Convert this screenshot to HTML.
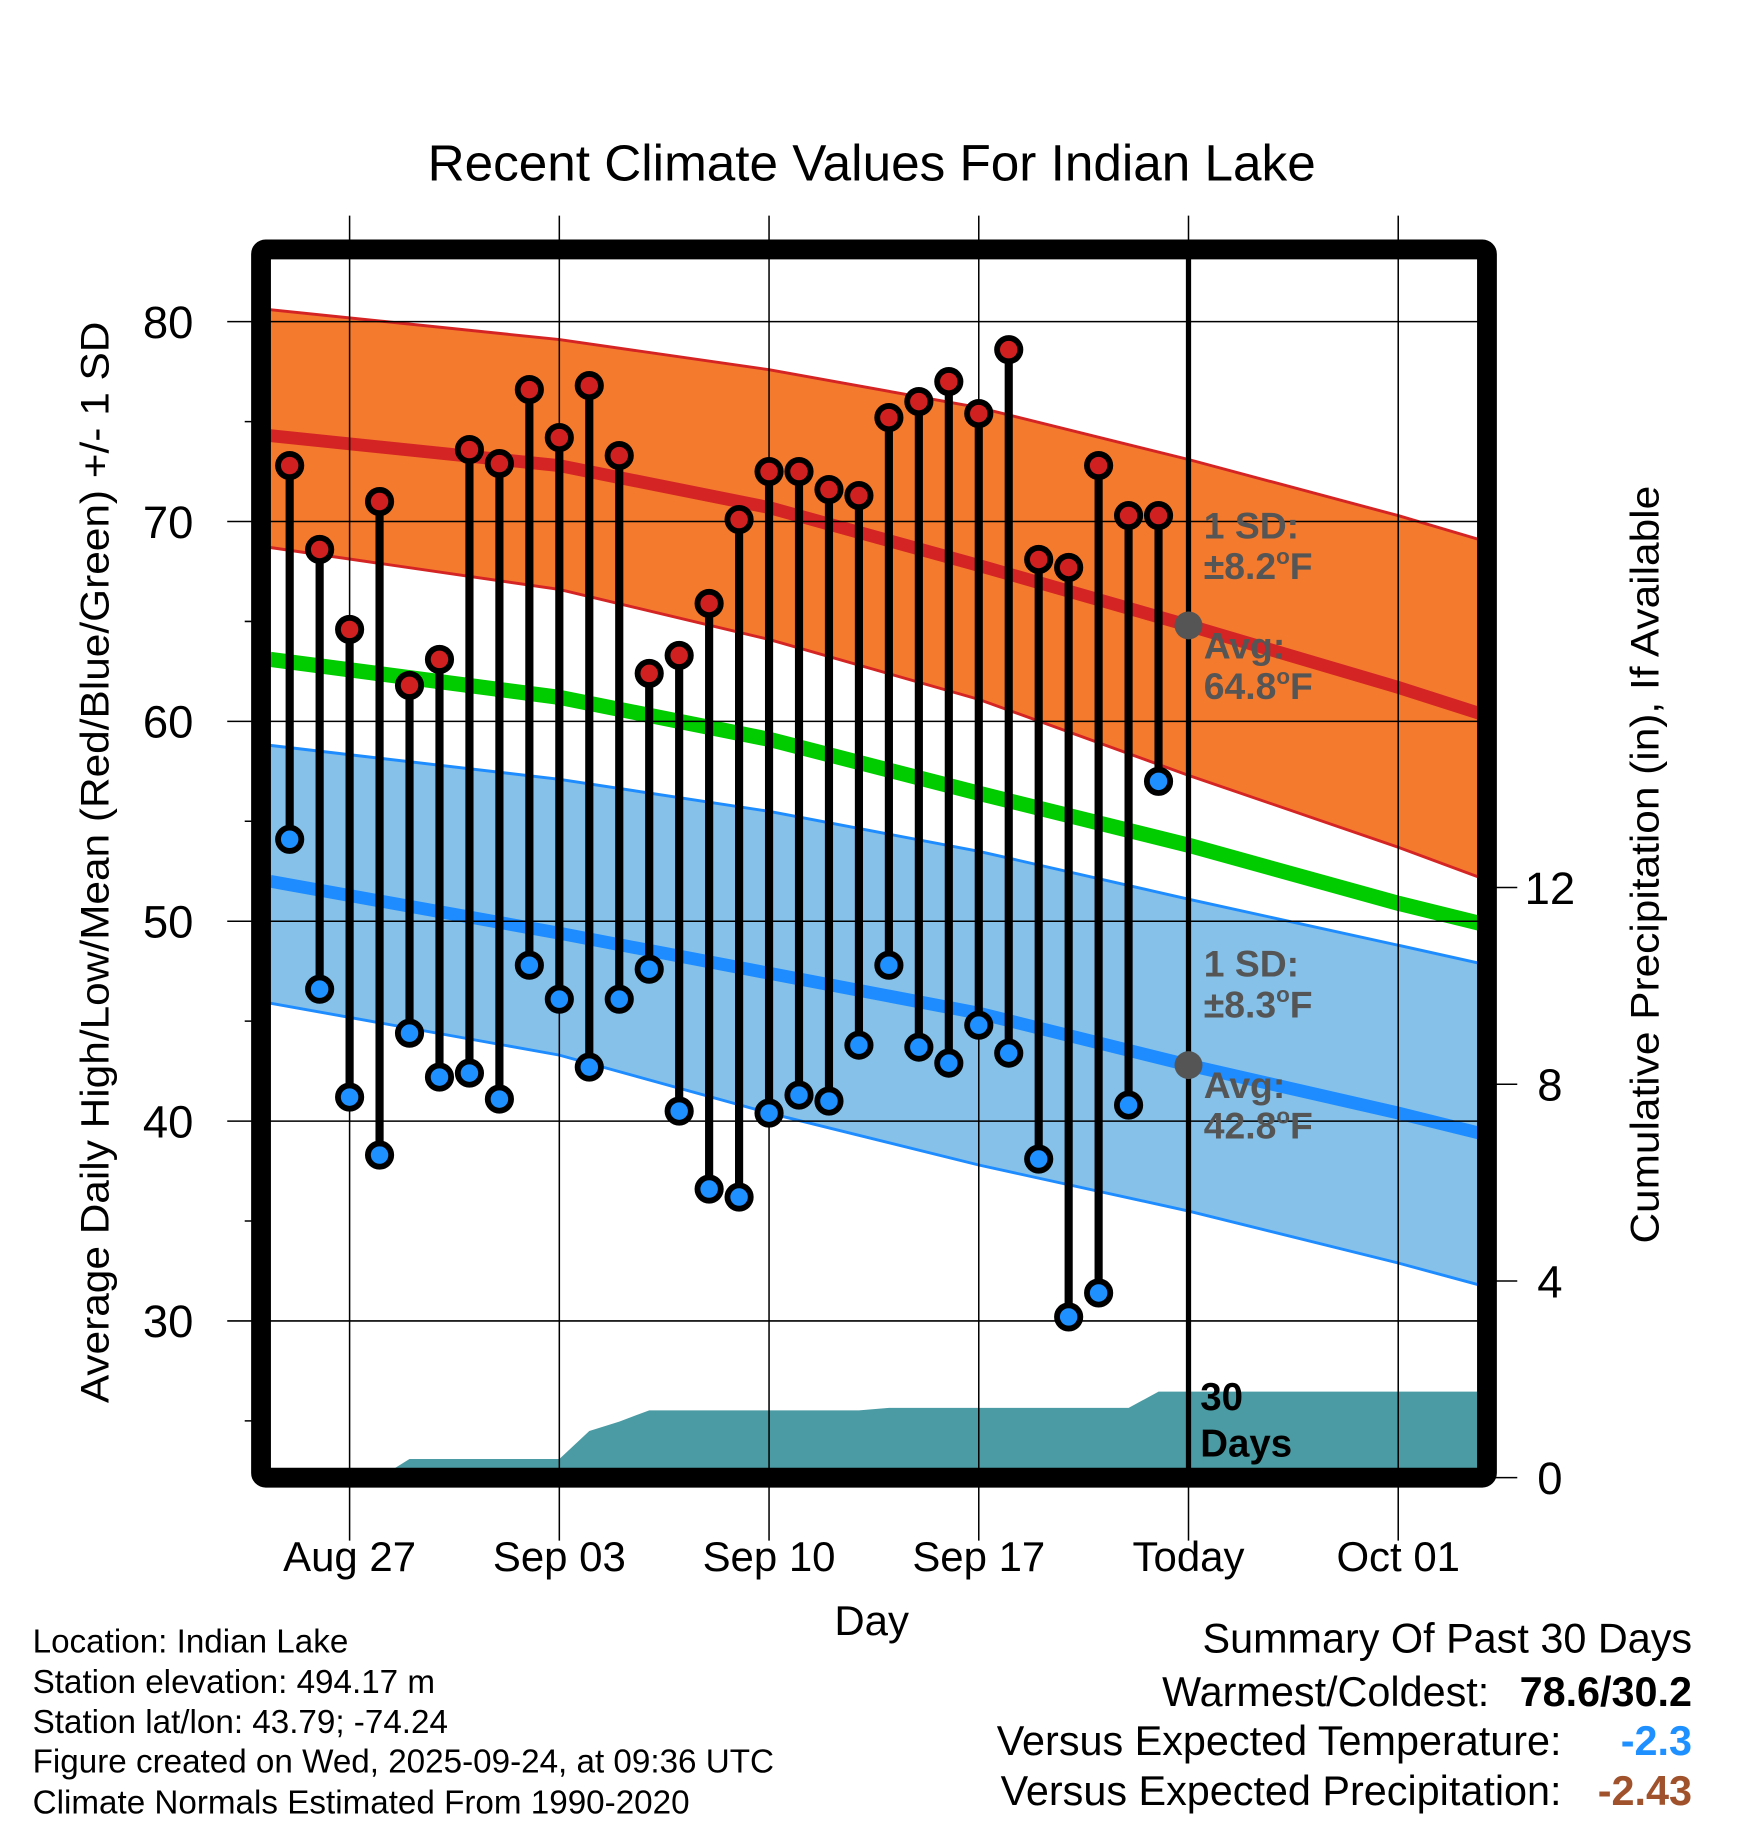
<!DOCTYPE html>
<html><head><meta charset="utf-8"><style>
html,body{margin:0;padding:0;background:#fff}
svg{display:block;font-family:"Liberation Sans",sans-serif}
</style></head><body>
<svg id="chart" width="1748" height="1828" viewBox="0 0 1500 1568.6" xmlns="http://www.w3.org/2000/svg">
<g id="bands"></g><g id="grid"></g><g id="marks"></g><g id="frame"></g><g id="labels"></g>
</svg>
<script>
// ---- data ----
const dayLabels = ["Aug 27","Sep 03","Sep 10","Sep 17","Today","Oct 01"];
const dayTicks = [0,7,14,21,28,35];
const obsDays = [-2,-1,0,1,2,3,4,5,6,7,8,9,10,11,12,13,14,15,16,17,18,19,20,21,22,23,24,25,26,27];
const highs = [72.8,68.6,64.6,71.0,61.8,63.1,73.6,72.9,76.6,74.2,76.8,73.3,62.4,63.3,65.9,70.1,72.5,72.5,71.6,71.3,75.2,76.0,77.0,75.4,78.6,68.1,67.7,72.8,70.3,70.3];
const lows = [54.1,46.6,41.2,38.3,44.4,42.2,42.4,41.1,47.8,46.1,42.7,46.1,47.6,40.5,36.6,36.2,40.4,41.3,41.0,43.8,47.8,43.7,42.9,44.8,43.4,38.1,30.2,31.4,40.8,57.0];
const precip = [0,0,0,0,0.38,0.38,0.38,0.38,0.38,0.38,0.95,1.14,1.37,1.37,1.37,1.37,1.37,1.37,1.37,1.37,1.42,1.42,1.42,1.42,1.42,1.42,1.42,1.42,1.42,1.75];
const normDays = [-2.65,7,14,21,28,35,37.7];
const hiUpper = [80.6,79.1,77.6,75.7,73.1,70.3,69.1];
const hiMean = [74.3,72.8,70.7,67.8,64.8,61.7,60.4];
const hiLower = [68.7,66.6,64.1,61.1,57.3,53.7,52.2];
const avgMean = [63.1,61.2,59.1,56.4,53.8,50.9,49.9];
const loUpper = [58.8,57.1,55.5,53.5,51.1,48.8,47.9];
const loMean = [52.0,49.4,47.4,45.4,42.8,40.4,39.4];
const loLower = [45.9,43.3,40.4,37.8,35.5,32.9,31.8];
const yTicks = [30,40,50,60,70,80];
const yMinor = [25,35,45,55,65,75];
const pTicks = [0,4,8,12];

// ---- axes ----
const X0=232,X1=1268,Y0=222,Y1=1260;
const x = d => 300 + d*25.71;
const y = v => 276 + (80-v)*17.15;
const yp = p => 1268 - p*42.2;
const NS="http://www.w3.org/2000/svg";
function mk(parent,tag,attrs){const e=document.createElementNS(NS,tag);for(const k in attrs)e.setAttribute(k,attrs[k]);document.getElementById(parent).appendChild(e);return e;}
const pts=(ds,vs)=>ds.map((d,i)=>x(d).toFixed(1)+","+y(vs[i]).toFixed(1));
function band(up,lo,fill,stroke,name){
  const p=pts(normDays,up).concat(pts(normDays,lo).reverse());
  const e=mk("bands","polygon",{points:p.join(" "),fill:fill});
  
  
  const a=mk("bands","polyline",{points:pts(normDays,up).join(" "),fill:"none",stroke:stroke,"stroke-width":2.5});
  
  
  const b=mk("bands","polyline",{points:pts(normDays,lo).join(" "),fill:"none",stroke:stroke,"stroke-width":2.5});
  
  
}
band(hiUpper,hiLower,"#f47a2e","#d42424","high-sd-band");
band(loUpper,loLower,"#85c1e9","#1e8cff","low-sd-band");
function line(vs,color,w,name){
  const e=mk("bands","polyline",{points:pts(normDays,vs).join(" "),fill:"none",stroke:color,"stroke-width":w});
  
  
}
line(hiMean,"#d42424",11,"normal-high-line");
line(avgMean,"#00cc00",13,"normal-mean-line");
line(loMean,"#1e8cff",11,"normal-low-line");

// precip area
{
  let p=[x(-2.65)+","+yp(0)];
  obsDays.forEach((d,i)=>p.push(x(d).toFixed(1)+","+yp(precip[i]).toFixed(1)));
  p.push(X1+","+yp(precip[precip.length-1]).toFixed(1));
  p.push(X1+","+Y1, X0+","+Y1);
  const e=mk("bands","polygon",{points:p.join(" "),fill:"#4a9ba3"});
  
  
}

// grid
dayTicks.forEach((d,i)=>{
  const e=mk("grid","line",{x1:x(d),x2:x(d),y1:185,y2:1322,stroke:"#000","stroke-width":1.3});
  
  
  const t=mk("labels","text",{x:x(d),y:1348,"font-size":36,"text-anchor":"middle"});
  t.textContent=dayLabels[i];
  
  
});
yTicks.forEach(v=>{
  const e=mk("grid","line",{x1:195,x2:X1,y1:y(v),y2:y(v),stroke:"#000","stroke-width":1.3});
  
  
  const t=mk("labels","text",{x:166,y:y(v)+14,"font-size":39,"text-anchor":"end"});
  t.textContent=v;
  
  
});
yMinor.forEach(v=>{
  const m=mk("grid","line",{x1:210,x2:225,y1:y(v),y2:y(v),stroke:"#000","stroke-width":1.3});
  
  
});
pTicks.forEach(p=>{
  const e=mk("grid","line",{x1:1280,x2:1302,y1:yp(p),y2:yp(p),stroke:"#000","stroke-width":1.3});
  
  
  const t=mk("labels","text",{x:1330,y:yp(p)+14,"font-size":39,"text-anchor":"middle"});
  t.textContent=p;
  
  
});

// today line
{const e=mk("marks","line",{x1:x(28),x2:x(28),y1:Y0,y2:Y1,stroke:"#000","stroke-width":4.5});

}

// stems & markers
obsDays.forEach((d,i)=>{
  const s=mk("marks","line",{x1:x(d),x2:x(d),y1:y(highs[i]),y2:y(lows[i]),stroke:"#000","stroke-width":7});
  
  
  const h=mk("marks","circle",{cx:x(d),cy:y(highs[i]),r:10,fill:"#d02020",stroke:"#000","stroke-width":5});
  
  
  const l=mk("marks","circle",{cx:x(d),cy:y(lows[i]),r:10,fill:"#1e90ff",stroke:"#000","stroke-width":5});
  
  
});
{const a=mk("marks","circle",{cx:x(28),cy:y(hiMean[4]),r:12,fill:"#555"});


const b=mk("marks","circle",{cx:x(28),cy:y(loMean[4]),r:12,fill:"#555"});

}

// frame
{const e=mk("frame","rect",{x:224,y:214,width:1052,height:1054,fill:"none",stroke:"#000","stroke-width":17,rx:4});

}
</script>
<script>
// static text
const T=[
 ["chart-title",748,155,44,"middle","normal","#000","Recent Climate Values For Indian Lake"],
 ["x-axis-title",748,1403,36,"middle","normal","#000","Day"],
 ["high-sd-label",1033,462,32,"start","bold","#555","1 SD:"],
 ["high-sd-value",1033,497,32,"start","bold","#555","±8.2<sup>o</sup>F"],
 ["high-avg-label",1033,565,32,"start","bold","#555","Avg:"],
 ["high-avg-value",1033,600,32,"start","bold","#555","64.8<sup>o</sup>F"],
 ["low-sd-label",1033,838,32,"start","bold","#555","1 SD:"],
 ["low-sd-value",1033,873,32,"start","bold","#555","±8.3<sup>o</sup>F"],
 ["low-avg-label",1033,942,32,"start","bold","#555","Avg:"],
 ["low-avg-value",1033,977,32,"start","bold","#555","42.8<sup>o</sup>F"],
 ["precip-days-number",1030,1210,33,"start","bold","#000","30"],
 ["precip-days-label",1030,1250,33,"start","bold","#000","Days"],
 ["location-text",28,1418,28.5,"start","normal","#000","Location: Indian Lake"],
 ["elevation-text",28,1453,28.5,"start","normal","#000","Station elevation: 494.17 m"],
 ["latlon-text",28,1487,28.5,"start","normal","#000","Station lat/lon: 43.79; -74.24"],
 ["created-text",28,1521,28.5,"start","normal","#000","Figure created on Wed, 2025-09-24, at 09:36 UTC"],
 ["normals-text",28,1556,28.5,"start","normal","#000","Climate Normals Estimated From 1990-2020"],
 ["summary-title",1452,1418,35.5,"end","normal","#000","Summary Of Past 30 Days"],
 ["warmest-label",1278,1464,35.5,"end","normal","#000","Warmest/Coldest:"],
 ["warmest-value",1452,1464,35.5,"end","bold","#000","78.6/30.2"],
 ["temp-departure-label",1340,1506,35.5,"end","normal","#000","Versus Expected Temperature:"],
 ["temp-departure-value",1452,1506,35.5,"end","bold","#1e90ff","-2.3"],
 ["precip-departure-label",1340,1549,35.5,"end","normal","#000","Versus Expected Precipitation:"],
 ["precip-departure-value",1452,1549,35.5,"end","bold","#a0522d","-2.43"]
];
const L=document.getElementById("labels");
const SN="http://www.w3.org/2000/svg";
T.forEach(a=>{const t=document.createElementNS(SN,"text");
t.setAttribute("x",a[1]);t.setAttribute("y",a[2]);t.setAttribute("font-size",a[3]);t.setAttribute("text-anchor",a[4]);t.setAttribute("font-weight",a[5]);t.setAttribute("fill",a[6]);
const parts=a[7].split(/<sup>|<\/sup>/);
parts.forEach((p,i)=>{const s=document.createElementNS(SN,"tspan");s.textContent=p;
 if(i===1){s.setAttribute("font-size",a[3]*0.6);s.setAttribute("dy",-13);}
 if(i===2){s.setAttribute("dy",13);}
 t.appendChild(s);});


L.appendChild(t);});
function rot(name,cx,cy,txt){const t=document.createElementNS(SN,"text");
t.setAttribute("x",0);t.setAttribute("y",0);t.setAttribute("font-size",34);t.setAttribute("text-anchor","middle");
t.setAttribute("transform","translate("+cx+","+cy+") scale(1,1.07) rotate(-90)");t.textContent=txt;


L.appendChild(t);}
rot("y-axis-title",93,740,"Average Daily High/Low/Mean (Red/Blue/Green) +/- 1 SD");
rot("precip-axis-title",1423,742,"Cumulative Precipitation (in), If Available");
</script>
</body></html>
